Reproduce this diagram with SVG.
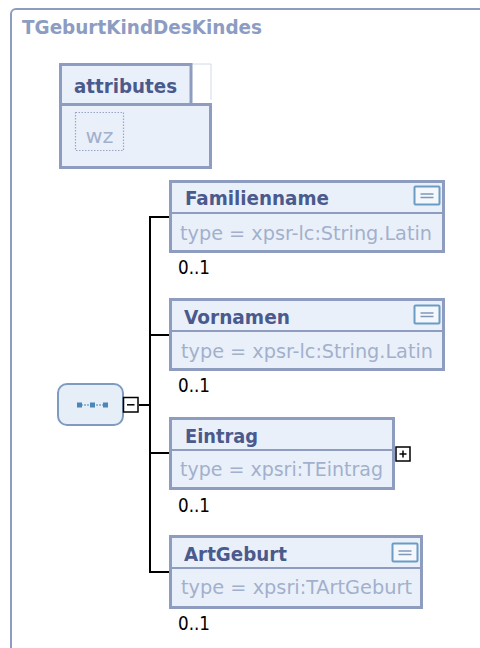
<svg xmlns="http://www.w3.org/2000/svg" width="480" height="648" viewBox="0 0 480 648">
<defs>
<style>
.frame{fill:none;stroke:#8e9cc0;stroke-width:2}
.title{font-family:"DejaVu Sans Condensed","DejaVu Sans",sans-serif;font-weight:bold;font-size:19px;fill:#8c9cc2}
.box{fill:#eaf0fa;stroke:#8e9cc0;stroke-width:3}
.sep{stroke:#8e9cc0;stroke-width:2}
.name{font-family:"DejaVu Sans Condensed","DejaVu Sans",sans-serif;font-weight:bold;font-size:20px;fill:#4a5a8c}
.type{font-family:"DejaVu Sans Condensed","DejaVu Sans",sans-serif;font-size:20px;fill:#a2b0cc}
.occ{font-family:"DejaVu Sans Condensed","DejaVu Sans",sans-serif;font-size:20px;fill:#000}
.con{fill:none;stroke:#000;stroke-width:2}
.icon{fill:#f4f8fc;stroke:#6a9cc4;stroke-width:2}
.iline{stroke:#7f98b8;stroke-width:1.5}
.tog{fill:#fff;stroke:#000;stroke-width:1.5}
</style>
<g id="doc-icon">
<rect class="icon" x="0" y="0" width="25" height="18" rx="1"/>
<line class="iline" x1="6" y1="7.5" x2="19" y2="7.5"/>
<line class="iline" x1="6" y1="11" x2="19" y2="11"/>
</g>
</defs>

<g id="frame">
<rect class="frame" x="11" y="9" width="520" height="700" rx="5"/>
<text class="title" x="22" y="34" textLength="240" lengthAdjust="spacingAndGlyphs">TGeburtKindDesKindes</text>
</g>

<g id="attributes">
<path d="M191,64 H211 V100" fill="none" stroke="#d0d8e6" stroke-width="1"/>
<path class="box" d="M60.5,64.5 H191 V104.5 H210.5 V167.5 H60.5 Z"/>
<line class="box" x1="60" y1="104.5" x2="211" y2="104.5"/>
<text class="name" x="74" y="93" textLength="103" lengthAdjust="spacingAndGlyphs">attributes</text>
<g id="wz">
<rect x="75.5" y="112.5" width="48" height="38" fill="none" stroke="#9aa6c4" stroke-width="1.2" stroke-dasharray="1.5,1.5"/>
<text class="type" x="99.5" y="143" text-anchor="middle" font-size="18" textLength="28" lengthAdjust="spacingAndGlyphs">wz</text>
</g>
</g>

<g id="connectors">
<line class="con" x1="139" y1="405" x2="150" y2="405"/>
<polyline class="con" points="169,217 150,217 150,572 169,572"/>
<line class="con" x1="150" y1="335" x2="169" y2="335"/>
<line class="con" x1="150" y1="453" x2="169" y2="453"/>
</g>

<g id="sequence">
<rect x="58" y="384" width="65" height="41" rx="9" fill="#e6eef8" stroke="#7f9cc0" stroke-width="2"/>
<line x1="78" y1="405" x2="107" y2="405" stroke="#4a86b8" stroke-width="1.2" stroke-dasharray="2,1"/>
<rect x="77" y="402.5" width="5" height="5" fill="#4a86b8"/>
<rect x="90" y="402.5" width="5" height="5" fill="#4a86b8"/>
<rect x="103" y="402.5" width="5" height="5" fill="#4a86b8"/>
<rect class="tog" x="123.5" y="397.5" width="14.5" height="14.5"/>
<line x1="127" y1="404.8" x2="134.5" y2="404.8" stroke="#000" stroke-width="1.5"/>
</g>

<g id="Familienname">
<rect class="box" x="170.5" y="181.5" width="273" height="70"/>
<line class="sep" x1="171" y1="213" x2="443" y2="213"/>
<text class="name" x="185" y="205" textLength="144" lengthAdjust="spacingAndGlyphs">Familienname</text>
<use href="#doc-icon" x="414.5" y="186.5"/>
<text class="type" x="180" y="240" textLength="252" lengthAdjust="spacingAndGlyphs">type = xpsr-lc:String.Latin</text>
<text class="occ" x="178" y="274" textLength="32" lengthAdjust="spacingAndGlyphs">0..1</text>
</g>

<g id="Vornamen">
<rect class="box" x="170.5" y="299.5" width="273" height="70"/>
<line class="sep" x1="171" y1="331" x2="443" y2="331"/>
<text class="name" x="184" y="324" textLength="106" lengthAdjust="spacingAndGlyphs">Vornamen</text>
<use href="#doc-icon" x="414.5" y="305.5"/>
<text class="type" x="181" y="358" textLength="252" lengthAdjust="spacingAndGlyphs">type = xpsr-lc:String.Latin</text>
<text class="occ" x="178" y="392" textLength="32" lengthAdjust="spacingAndGlyphs">0..1</text>
</g>

<g id="Eintrag">
<rect class="box" x="170.5" y="418.5" width="223" height="70"/>
<line class="sep" x1="171" y1="450" x2="393" y2="450"/>
<text class="name" x="185" y="443" textLength="73" lengthAdjust="spacingAndGlyphs">Eintrag</text>
<text class="type" x="180" y="476" textLength="203" lengthAdjust="spacingAndGlyphs">type = xpsri:TEintrag</text>
<text class="occ" x="178" y="512" textLength="32" lengthAdjust="spacingAndGlyphs">0..1</text>
<rect class="tog" x="396" y="447" width="14" height="14"/>
<line x1="399.5" y1="454" x2="406.5" y2="454" stroke="#000" stroke-width="1.5"/>
<line x1="403" y1="450.5" x2="403" y2="457.5" stroke="#000" stroke-width="1.5"/>
</g>

<g id="ArtGeburt">
<rect class="box" x="170.5" y="536.5" width="251" height="71"/>
<line class="sep" x1="171" y1="568" x2="421" y2="568"/>
<text class="name" x="184" y="561" textLength="103" lengthAdjust="spacingAndGlyphs">ArtGeburt</text>
<use href="#doc-icon" x="392.5" y="543.5"/>
<text class="type" x="181" y="594" textLength="231" lengthAdjust="spacingAndGlyphs">type = xpsri:TArtGeburt</text>
<text class="occ" x="178" y="630" textLength="32" lengthAdjust="spacingAndGlyphs">0..1</text>
</g>
</svg>
